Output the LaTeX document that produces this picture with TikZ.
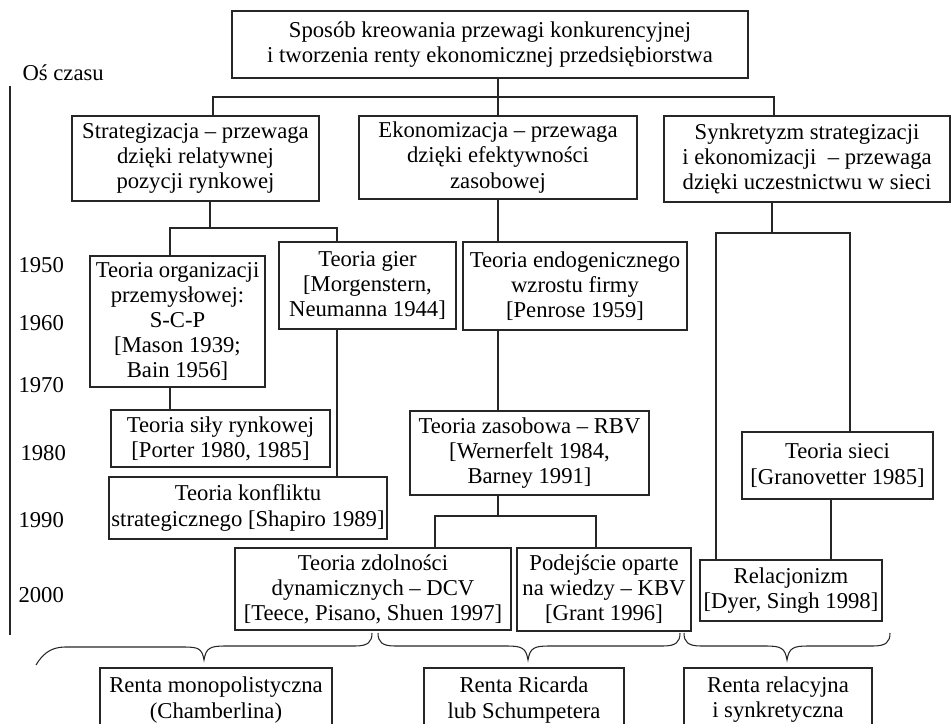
\documentclass[tikz,border=0pt]{standalone}
\usepackage{fontspec}
\setmainfont{Liberation Serif}

\newcommand\tekst{\fontsize{12.9}{14.3}\selectfont}
% klamra: lewy koniec, szpic, prawy koniec
\newcommand\klamra[3]{%
  \draw (#1,633) .. controls (#1,642) and (#1+4,646) .. (#1+17,646) -- (#2-21,646)
    .. controls (#2-6,646) and (#2-2,648) .. (#2,660)
    .. controls (#2+2,648) and (#2+6,646) .. (#2+21,646) -- (#3-17,646)
    .. controls (#3-4,646) and (#3,642) .. (#3,633);}

\tikzset{
  ramka/.style={draw=black!85, align=center, inner sep=1pt, font=\tekst},
  wym/.style 2 args={minimum width=#1*0.02cm, minimum height=#2*0.02cm},
  rok/.style={anchor=west, inner sep=0pt, font=\tekst}
}

\begin{document}
\begin{tikzpicture}[x=0.02cm, y=-0.02cm, line width=0.6pt]
  \useasboundingbox (0,0) rectangle (952,723);
  \clip (0,0) rectangle (952,723);

  % os czasu
  \node[rok] (os) at (22,73) {Oś czasu};
  \coordinate (osG) at (10,86); \coordinate (osD) at (10,635);
  \draw[black!85] (osG) -- (osD);
  \foreach \r/\x/\y in {1950/18/265, 1960/18/323, 1970/18/385, 1980/20/453, 1990/18/520, 2000/18/595}
    \node[rok] (r\r) at (\x,\y) {\r};

  % poziom 1 i 2
  \node[ramka, wym={516}{67}] (glowny) at (490,44.5) {Sposób kreowania przewagi konkurencyjnej\\ i tworzenia renty ekonomicznej przedsiębiorstwa};
  \node[ramka, wym={247}{85}] (strat) at (195.5,158.5) {Strategizacja – przewaga\\ dzięki relatywnej\\ pozycji rynkowej};
  \node[ramka, wym={278}{83}] (ekon) at (498,157.5) {Ekonomizacja – przewaga\\ dzięki efektywności\\ zasobowej};
  \node[ramka, wym={286}{86}] (synk) at (807,159) {Synkretyzm strategizacji\\ i ekonomizacji \ – przewaga\\ dzięki uczestnictwu w sieci};

  % teorie
  \node[ramka, wym={175}{131}] (org) at (177.5,321.5) {Teoria organizacji\\ przemysłowej:\\ S-C-P\\ {[}Mason 1939;\\ Bain 1956]};
  \node[ramka, wym={177}{87}] (gier) at (367.5,285.5) {Teoria gier\\ {[}Morgenstern,\\ Neumanna 1944]};
  \node[ramka, wym={224}{88}] (endo) at (575,286) {Teoria endogenicznego\\ wzrostu firmy\\ {[}Penrose 1959]};
  \node[ramka, wym={219}{57}] (sila) at (220.5,438.5) {Teoria siły rynkowej\\ {[}Porter 1980, 1985]};
  \node[ramka, wym={278}{62}] (konfl) at (248,508) {Teoria konfliktu\\ strategicznego [Shapiro 1989]};
  \node[ramka, wym={239}{84}] (zasob) at (529.5,453) {Teoria zasobowa – RBV\\ {[}Wernerfelt 1984,\\ Barney 1991]};
  \node[ramka, wym={191}{67}] (sieci) at (837.5,465.5) {Teoria sieci\\ {[}Granovetter 1985]};
  \node[ramka, wym={276}{82}] (dcv) at (373,589) {Teoria zdolności\\ dynamicznych – DCV\\ {[}Teece, Pisano, Shuen 1997]};
  \node[ramka, wym={174}{83}] (kbv) at (604,589.5) {Podejście oparte\\ na wiedzy – KBV\\ {[}Grant 1996]};
  \node[ramka, wym={182}{61}] (relac) at (791,590.5) {Relacjonizm\\ {[}Dyer, Singh 1998]};

  % renty
  \node[ramka, wym={232}{64}] (rmono) at (216,700) {Renta monopolistyczna\\ (Chamberlina)};
  \node[ramka, wym={200}{64}] (rric) at (524,700) {Renta Ricarda\\ lub Schumpetera};
  \node[ramka, wym={188}{64}] (rrel) at (778,700) {Renta relacyjna\\ i synkretyczna};

  % polaczenia
  \begin{scope}[black!85]
    \coordinate (szL) at (213,97); \coordinate (szP) at (774,97);
    \draw (ekon.north |- glowny.south) -- (ekon.north);
    \draw (szL |- strat.north) -- (szL) -- (szP) -- (szP |- synk.north);

    \coordinate (wS) at (210,228); \coordinate (wSl) at (170,228); \coordinate (wSp) at (337,228);
    \draw (wS |- strat.south) -- (wS);
    \draw (wSl |- org.north) -- (wSl) -- (wSp) -- (wSp |- gier.north);
    \draw (wSl |- org.south) -- (wSl |- sila.north);
    \draw (wSp |- gier.south) -- (wSp |- konfl.north);

    \coordinate (wZl) at (435,516); \coordinate (wZp) at (596,516);
    \draw (ekon.south) -- (ekon.south |- endo.north);
    \draw (ekon.south |- endo.south) -- (ekon.south |- zasob.north);
    \draw (ekon.south |- zasob.south) -- (ekon.south |- wZl);
    \draw (wZl |- dcv.north) -- (wZl) -- (wZp) -- (wZp |- kbv.north);

    \coordinate (wY) at (772,233); \coordinate (wYl) at (716,233); \coordinate (wYp) at (850,233);
    \coordinate (wN) at (831,530);
    \draw (wY |- synk.south) -- (wY);
    \draw (wYl |- relac.north) -- (wYl) -- (wYp) -- (wYp |- sieci.north);
    \draw (wN |- sieci.south) -- (wN |- relac.north);

    % klamry
    \draw (36,665) .. controls (42,655) and (50,647) .. (65,647) -- (183,647)
      .. controls (198,647) and (202,648) .. (204,660)
      .. controls (206,648) and (210,646) .. (225,646) -- (355,646)
      .. controls (368,646) and (372,642) .. (372,633);
    \klamra{378}{528}{680}
    \klamra{684}{787}{890}
  \end{scope}
\end{tikzpicture}
\end{document}
